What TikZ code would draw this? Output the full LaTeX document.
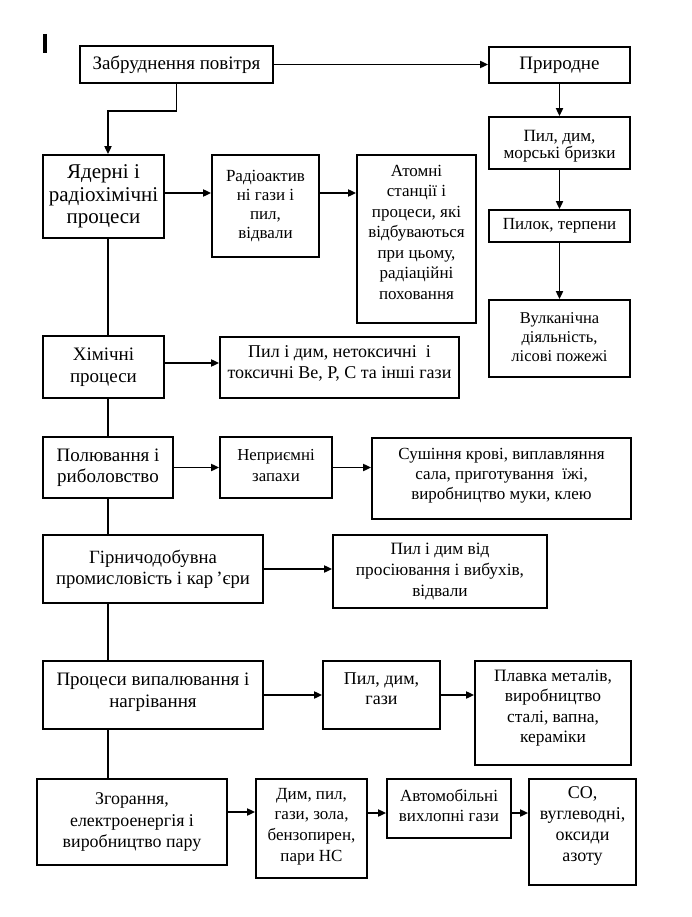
\documentclass[tikz,border=0pt]{standalone}
\usepackage{fontspec}
\setmainfont{Liberation Serif}
\usetikzlibrary{arrows.meta}
\newcommand{\bxt}[4]{\begin{minipage}[c][#2pt][c]{#1pt}\centering #4\par\vspace*{#3pt}\end{minipage}}
\tikzset{
  box/.style={draw=black, line width=1.7pt, inner sep=0pt},
  fs/.style n args={2}{font=\fontsize{#1}{#2}\selectfont},
  con/.style={line width=1.7pt},
  arr/.style={line width=1.7pt, -{Triangle[length=8pt,width=7pt]}}
}
\begin{document}
\begin{tikzpicture}[x=1pt,y=-1pt]
\useasboundingbox (0,0) rectangle (691,917);
\coordinate (sp) at (108,0);
\draw[line width=3.3pt] (45,34) -- (45,53);
% right column
\node[box,fs={19}{22}] (zab) at (176.5,64.5) {\bxt{193}{37}{0}{Забруднення повітря}};
\node[box,fs={19}{22}] (prir) at (559.5,65) {\bxt{141}{36}{0}{Природне}};
\node[box,fs={17.2}{17.5}] (pyl1) at (559.5,143) {\bxt{141}{52}{-6}{Пил, дим,\\морські бризки}};
\node[box,fs={17}{20}] (pylok) at (559.5,226) {\bxt{141}{32}{0}{Пилок, терпени}};
\node[box,fs={16.5}{19}] (vulk) at (559.5,338.5) {\bxt{141}{77}{2}{Вулканічна\\діяльність,\\лісові пожежі}};
% rows
\node[box,fs={21}{22.5}] (yad) at (103.5,196.5) {\bxt{121}{83}{0}{Ядерні і\\радіохімічні\\процеси}};
\node[box,fs={17}{19}] (radio) at (265.5,206) {\bxt{107}{102}{0}{Радіоактив\\ні гази і\\пил,\\відвали}};
\node[box,fs={17}{20.5}] (atom) at (416.5,239) {\bxt{119}{168}{14}{Атомні\\станції і\\процеси, які\\відбуваються\\при цьому,\\радіаційні\\поховання}};
\node[box,fs={19}{22}] (him) at (103.5,367) {\bxt{121}{62}{0}{Хімічні\\процеси}};
\node[box,fs={18}{21}] (pylhim) at (339.5,367.5) {\bxt{239}{61}{8}{Пил і дим, нетоксичні~ і\\токсичні Be, P, C та інші гази}};
\node[box,fs={19}{20.5}] (pol) at (108,467.5) {\bxt{130}{61}{0}{Полювання і\\риболовство}};
\node[box,fs={16.8}{21}] (nepr) at (276,467.5) {\bxt{112}{61}{4}{Неприємні\\запахи}};
\node[box,fs={17}{20}] (sush) at (501.5,478.5) {\bxt{259}{81}{6}{Сушіння крові, виплавляння\\сала, приготування~ їжі,\\виробництво муки, клею}};
\node[box,fs={18.7}{21}] (hirn) at (153,569) {\bxt{220}{68}{0}{Гірничодобувна\\промисловість і кар\,ʼєри}};
\node[box,fs={17.3}{21}] (pylvid) at (440,571.5) {\bxt{214}{73}{0}{Пил і дим від\\просіювання і вибухів,\\відвали}};
\node[box,fs={19}{22}] (proc) at (153,695) {\bxt{220}{68}{6}{Процеси випалювання і\\нагрівання}};
\node[box,fs={18}{20}] (pylgaz) at (381.5,695) {\bxt{117}{68}{12}{Пил, дим,\\гази}};
\node[box,fs={17.4}{20.5}] (plavka) at (553,713) {\bxt{156}{104}{10}{Плавка металів,\\виробництво\\сталі, вапна,\\кераміки}};
\node[box,fs={17.9}{21.5}] (zhor) at (132,822) {\bxt{190}{86}{0}{Згорання,\\електроенергія і\\виробництво пару}};
\node[box,fs={17}{20.7}] (dym) at (311.5,828.5) {\bxt{111}{99}{4}{Дим, пил,\\гази, зола,\\бензопирен,\\пари HC}};
\node[box,fs={17}{20}] (avto) at (449,808.5) {\bxt{124}{59}{6}{Автомобільні\\вихлопні гази}};
\node[box,fs={18}{20.7}] (co) at (582.5,832) {\bxt{107}{106}{12}{CO,\\вуглеводні,\\оксиди\\азоту}};
% connectors
\draw[arr] (zab.east) -- (zab.east -| prir.west);
\draw[arr] (prir.south) -- (pyl1.north);
\draw[arr] (pyl1.south) -- (pylok.north);
\draw[arr] (pylok.south) -- (vulk.north);
\draw[arr] (zab.south) -- ++(0,27) -| (yad.north -| sp);
\draw[con] (yad.south -| sp) -- (him.north -| sp);
\draw[con] (him.south -| sp) -- (pol.north -| sp);
\draw[con] (pol.south -| sp) -- (hirn.north -| sp);
\draw[con] (hirn.south -| sp) -- (proc.north -| sp);
\draw[con] (proc.south -| sp) -- (zhor.north -| sp);
\draw[arr] ([yshift=3.5pt]yad.east) -- ([yshift=3.5pt]yad.east -| radio.west);
\draw[arr] ([yshift=13pt]radio.east) -- ([yshift=13pt]radio.east -| atom.west);
\draw[arr] ([yshift=4pt]him.east) -- ([yshift=4pt]him.east -| pylhim.west);
\draw[arr] (pol.east) -- (pol.east -| nepr.west);
\draw[arr] (nepr.east) -- (nepr.east -| sush.west);
\draw[arr] (hirn.east) -- (hirn.east -| pylvid.west);
\draw[arr] (proc.east) -- (proc.east -| pylgaz.west);
\draw[arr] (pylgaz.east) -- (pylgaz.east -| plavka.west);
\draw[arr] ([yshift=10pt]zhor.east) -- ([yshift=10pt]zhor.east -| dym.west);
\draw[arr] ([yshift=-4.5pt]avto.west -| dym.east) -- ([yshift=-4.5pt]avto.west);
\draw[arr] ([yshift=-4.5pt]avto.east) -- ([yshift=-4.5pt]avto.east -| co.west);
\end{tikzpicture}
\end{document}
